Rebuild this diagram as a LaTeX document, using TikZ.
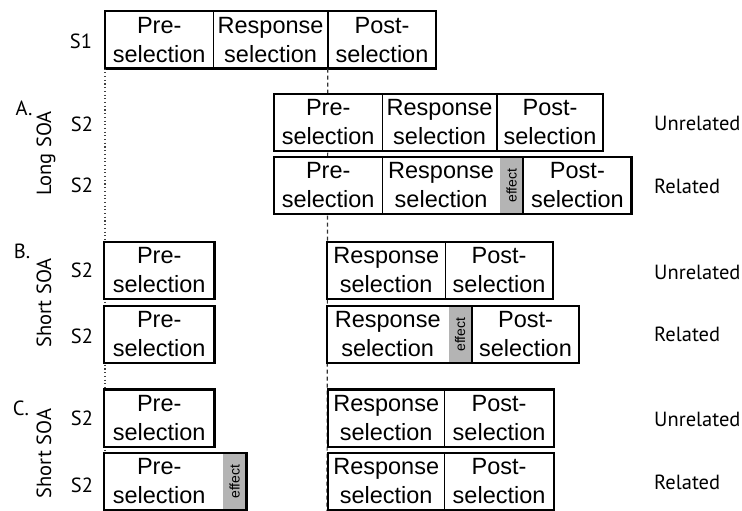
\documentclass[tikz,border=0pt]{standalone}
\usepackage{fontspec}
\usepackage{graphicx}
\setmainfont{Liberation Sans}
\newfontfamily\labelfont{PT Sans}
\definecolor{effectgray}{RGB}{180,180,180}

\begin{document}
\begin{tikzpicture}[x=1pt,y=-1pt,
  seg/.style={anchor=west, minimum height=57pt, inner sep=0pt, align=center,
    fill=white, font=\fontsize{23.5}{29}\selectfont},
  effbar/.style={anchor=west, minimum height=57pt, minimum width=23pt,
    inner sep=0pt, fill=effectgray, font=\fontsize{14}{16}\selectfont},
  outline/.style={line width=2.4pt},
  divider/.style={line width=1.6pt},
  dotline/.style={line width=1.1pt, dash pattern=on 1.1pt off 2.6pt, black!75},
  dashline/.style={line width=1.2pt, dash pattern=on 4pt off 3pt, black!80},
  lab/.style={font=\labelfont\fontsize{20.5}{23}\selectfont, inner sep=0pt},
  rlab/.style={lab, anchor=west}
]
\path[use as bounding box, fill=white] (0,0) rectangle (742,511);

% stimulus 1
\node[seg, minimum width=108pt] (s1pre) at (105,40) {Pre-\\selection};
\node[seg, minimum width=114pt] (s1resp) at (s1pre.east) {Response\\selection};
\node[seg, minimum width=108pt] (s1post) at (s1resp.east) {Post-\\selection};
\draw[divider] (s1pre.north east) -- (s1pre.south east);
\draw[divider] (s1resp.north east) -- (s1resp.south east);
\draw[outline] (s1pre.north west) rectangle (s1post.south east);

% onset guide lines
\coordinate (dotend) at (105,511);
\coordinate (dashend) at (327,511);
\draw[dotline] (s1pre.south west) -- (dotend);
\draw[dashline] (s1post.south west) -- (dashend);

% A: long SOA, unrelated
\node[seg, minimum width=108pt] (a1pre) at (274,122.5) {Pre-\\selection};
\node[seg, minimum width=114pt] (a1resp) at (a1pre.east) {Response\\selection};
\node[seg, minimum width=106pt] (a1post) at (a1resp.east) {Post-\\selection};
\draw[divider] (a1pre.north east) -- (a1pre.south east);
\draw[divider] (a1resp.north east) -- (a1resp.south east);
\draw[outline] (a1pre.north west) rectangle (a1post.south east);

% A: long SOA, related
\node[seg, minimum width=108pt] (a2pre) at (274,185.5) {Pre-\\selection};
\node[seg, minimum width=117pt] (a2resp) at (a2pre.east) {Response\\selection};
\node[effbar] (a2eff) at (a2resp.east) {\rotatebox{90}{effect}};
\node[seg, minimum width=108pt] (a2post) at (a2eff.east) {Post-\\selection};
\draw[divider] (a2pre.north east) -- (a2pre.south east);
\draw[divider] (a2eff.north east) -- (a2eff.south east);
\draw[outline] (a2pre.north west) rectangle (a2post.south east);

% B: short SOA, unrelated
\node[seg, minimum width=110pt] (b1pre) at (104,270.5) {Pre-\\selection};
\draw[outline] (b1pre.north west) rectangle (b1pre.south east);
\node[seg, minimum width=118pt] (b1resp) at (327,270.5) {Response\\selection};
\node[seg, minimum width=107pt] (b1post) at (b1resp.east) {Post-\\selection};
\draw[divider] (b1resp.north east) -- (b1resp.south east);
\draw[outline] (b1resp.north west) rectangle (b1post.south east);

% B: short SOA, related
\node[seg, minimum width=110pt] (b2pre) at (104,334.5) {Pre-\\selection};
\draw[outline] (b2pre.north west) rectangle (b2pre.south east);
\node[seg, minimum width=121pt] (b2resp) at (327,334.5) {Response\\selection};
\node[effbar] (b2eff) at (b2resp.east) {\rotatebox{90}{effect}};
\node[seg, minimum width=107pt] (b2post) at (b2eff.east) {Post-\\selection};
\draw[divider] (b2eff.north east) -- (b2eff.south east);
\draw[outline] (b2resp.north west) rectangle (b2post.south east);

% C: short SOA, unrelated
\node[seg, minimum width=110pt] (c1pre) at (104,418) {Pre-\\selection};
\draw[outline] (c1pre.north west) rectangle (c1pre.south east);
\node[seg, minimum width=116pt] (c1resp) at (328,418) {Response\\selection};
\node[seg, minimum width=109pt] (c1post) at (c1resp.east) {Post-\\selection};
\draw[divider] (c1resp.north east) -- (c1resp.south east);
\draw[outline] (c1resp.north west) rectangle (c1post.south east);

% C: short SOA, related
\node[seg, minimum width=110pt] (c2pre) at (104,481.5) {Pre-\\selection};
\node[effbar] (c2eff) at (223,481.5) {\rotatebox{90}{effect}};
\draw[outline] (c2pre.north west) rectangle (c2eff.south east);
\node[seg, minimum width=116pt] (c2resp) at (328,481.5) {Response\\selection};
\node[seg, minimum width=109pt] (c2post) at (c2resp.east) {Post-\\selection};
\draw[divider] (c2resp.north east) -- (c2resp.south east);
\draw[outline] (c2resp.north west) rectangle (c2post.south east);

% row labels
\node[lab] (ls1) at (81,41.5) {S1};
\node[lab] (lA) at (24,108) {A.};
\node[lab, rotate=90] (lsoaA) at (46,153.5) {Long SOA};
\node[lab] (la1) at (82,124.5) {S2};
\node[lab] (la2) at (82,185) {S2};
\node[lab] (lB) at (22,251.5) {B.};
\node[lab, rotate=90] (lsoaB) at (44,303) {Short SOA};
\node[lab] (lb1) at (82,270.5) {S2};
\node[lab] (lb2) at (82,336) {S2};
\node[lab] (lC) at (21,408.5) {C.};
\node[lab, rotate=90] (lsoaC) at (44,453.5) {Short SOA};
\node[lab] (lc1) at (82,418) {S2};
\node[lab] (lc2) at (82,485) {S2};

% condition labels
\node[rlab] (ra1) at (654,123) {Unrelated};
\node[rlab] (ra2) at (654,186) {Related};
\node[rlab] (rb1) at (654,272) {Unrelated};
\node[rlab] (rb2) at (654,334) {Related};
\node[rlab] (rc1) at (654,419) {Unrelated};
\node[rlab] (rc2) at (654,482) {Related};
\end{tikzpicture}
\end{document}
